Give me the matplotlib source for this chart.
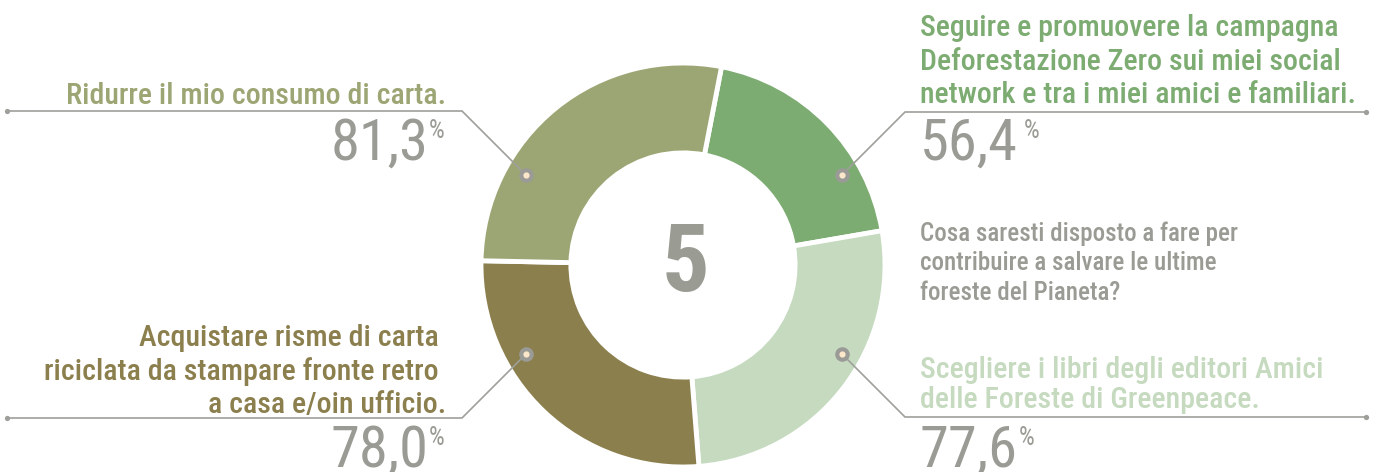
import matplotlib
matplotlib.use("Agg")
import matplotlib.pyplot as plt
from matplotlib import font_manager as fm

# ---- data ----
categories = [
    "Seguire e promuovere la campagna\nDeforestazione Zero sui miei social\nnetwork e tra i miei amici e familiari.",
    "Scegliere i libri degli editori Amici\ndelle Foreste di Greenpeace.",
    "Acquistare risme di carta\nriciclata da stampare fronte retro\na casa e/oin ufficio.",
    "Ridurre il mio consumo di carta.",
]
values = [56.4, 77.6, 78.0, 81.3]
colors = ["#7DAC72", "#C5DABF", "#8C7F4E", "#9CA674"]
center_label = "5"
question = "Cosa saresti disposto a fare per\ncontribuire a salvare le ultime\nforeste del Pianeta?"

# ---- font ----
names = {f.name for f in fm.fontManager.ttflist}
family = "Liberation Sans"
for cand in ["Roboto Condensed", "Liberation Sans Narrow", "Open Sans Condensed", "Liberation Sans"]:
    if cand in names:
        family = cand
        break
plt.rcParams["font.family"] = [family, "DejaVu Sans"]

W, H = 1379, 472
fig = plt.figure(figsize=(W / 100, H / 100), dpi=100)
fig.patch.set_facecolor("white")

# pie axes: centre (683,265) px, radius 202 px
cx, cy, R = 683, 265, 202
axp = fig.add_axes([(cx - R) / W, (H - cy - R) / H, 2 * R / W, 2 * R / H])
axp.pie(values, colors=colors, startangle=79, counterclock=False, radius=1.0,
        wedgeprops=dict(width=0.445, edgecolor="white", linewidth=3.5))
axp.set_xlim(-1, 1)
axp.set_ylim(-1, 1)
axp.set_aspect("auto")
axp.axis("off")
axp.text(0.01, 0, center_label, ha="center", va="center", fontsize=68,
         fontweight="bold", color="#9A9B93")

# overlay axes in pixel coordinates
ax = fig.add_axes([0, 0, 1, 1])
ax.set_xlim(0, W)
ax.set_ylim(H, 0)
ax.axis("off")
ax.patch.set_alpha(0)

gray = "#9E9F9A"
numgray = "#9A9B94"

# leader lines: (dot, knee, end)
leaders = [
    ((842, 175), (905, 112), (1366, 112)),
    ((842, 354), (905, 417), (1366, 417)),
    ((526, 354), (462, 418), (7, 418)),
    ((526, 175), (462, 111), (7, 111)),
]
for (d, k, e) in leaders:
    ax.plot([d[0], k[0], e[0]], [d[1], k[1], e[1]], color=gray, lw=1.2,
            solid_joinstyle="miter")
    ax.plot([e[0]], [e[1]], "o", color=gray, ms=3.8, mec="none")
    ax.plot([d[0]], [d[1]], "o", color="#9A9A96", ms=10.5, mec="none", zorder=5)
    ax.plot([d[0]], [d[1]], "o", color="#FCE7CB", ms=4.5, mec="none", zorder=6)

lab_fs = 21.5
lab_w = "medium"
num_fs = 42
pct_fs = 18

def pct_text(v):
    return f"{v:.1f}".replace(".", ",")

# Seguire (right, top)
for i, line in enumerate(categories[0].split("\n")):
    ax.text(920, 36 + i * 33.5, line, ha="left", va="baseline", fontsize=lab_fs,
            fontweight=lab_w, color=colors[0])
ax.text(920, 160, pct_text(values[0]), ha="left", va="baseline", fontsize=num_fs, color=numgray)
ax.text(1024, 138, "%", ha="left", va="baseline", fontsize=pct_fs, color=numgray)

# question
for i, line in enumerate(question.split("\n")):
    ax.text(920, 241 + i * 29.5, line, ha="left", va="baseline", fontsize=18,
            fontweight=lab_w, color=numgray)

# Scegliere (right, bottom)
for i, line in enumerate(categories[1].split("\n")):
    ax.text(920, 378 + i * 30.5, line, ha="left", va="baseline", fontsize=lab_fs,
            fontweight=lab_w, color=colors[1])
ax.text(920, 467, pct_text(values[1]), ha="left", va="baseline", fontsize=num_fs, color=numgray)
ax.text(1019, 445, "%", ha="left", va="baseline", fontsize=pct_fs, color=numgray)

# Acquistare (left, bottom)
rights = [439, 439, 446]
for i, line in enumerate(categories[2].split("\n")):
    ax.text(rights[i], 346 + i * 33.5, line, ha="right", va="baseline", fontsize=lab_fs,
            fontweight=lab_w, color=colors[2])
ax.text(428, 467, pct_text(values[2]), ha="right", va="baseline", fontsize=num_fs, color=numgray)
ax.text(429, 445, "%", ha="left", va="baseline", fontsize=pct_fs, color=numgray)

# Ridurre (left, top)
ax.text(446, 104, categories[3], ha="right", va="baseline", fontsize=lab_fs,
        fontweight=lab_w, color=colors[3])
ax.text(428, 160, pct_text(values[3]), ha="right", va="baseline", fontsize=num_fs, color=numgray)
ax.text(429, 138, "%", ha="left", va="baseline", fontsize=pct_fs, color=numgray)

fig.savefig("out.png", dpi=100, facecolor="white")
